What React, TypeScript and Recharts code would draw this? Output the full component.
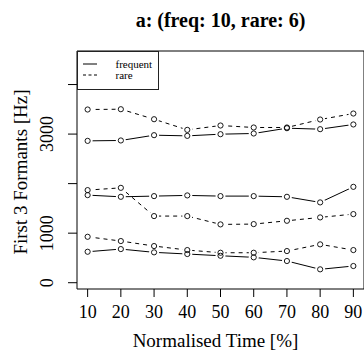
import React from 'react';
import { LineChart, Line, XAxis, YAxis, Legend, Label, ReferenceLine } from 'recharts';

const times = [10, 20, 30, 40, 50, 60, 70, 80, 90];
const freqF1 = [625, 679, 613, 579, 544, 512, 438, 270, 337];
const freqF2 = [1768, 1734, 1748, 1762, 1748, 1748, 1734, 1621, 1935];
const freqF3 = [2863, 2871, 2978, 2964, 2998, 3012, 3119, 3099, 3194];
const rareF1 = [927, 841, 740, 659, 605, 605, 639, 774, 659];
const rareF2 = [1869, 1915, 1345, 1345, 1177, 1183, 1250, 1318, 1385];
const rareF3 = [3496, 3502, 3300, 3085, 3173, 3133, 3133, 3294, 3415];

const xTicks = [10, 20, 30, 40, 50, 60, 70, 80, 90];
const yTicks = [0, 1000, 2000, 3000, 4000];
const yLabelled = [0, 1000, 3000];
const xDomain = [6.8, 93.2];
const yDomain = [-127, 4677];

const title = 'a: (freq: 10, rare: 6)';
const xTitle = 'Normalised Time [%]';
const yTitle = 'First 3 Formants [Hz]';
const legendNames = ['frequent', 'rare'];

const data = times.map((t, i) => ({
  t,
  fF1: freqF1[i],
  fF2: freqF2[i],
  fF3: freqF3[i],
  rF1: rareF1[i],
  rF2: rareF2[i],
  rF3: rareF3[i],
}));

const series = [
  { key: 'fF1', dash: undefined as string | undefined },
  { key: 'fF2', dash: undefined as string | undefined },
  { key: 'fF3', dash: undefined as string | undefined },
  { key: 'rF1', dash: '4 4' },
  { key: 'rF2', dash: '4 4' },
  { key: 'rF3', dash: '4 4' },
];

const FONT = '"Liberation Serif", "Times New Roman", Times, serif';

const Halo = (p: any) => <circle key={p.key ?? `${p.cx}-${p.cy}`} cx={p.cx} cy={p.cy} r={5} fill="#fff" stroke="none" />;
const Ring = (p: any) => (
  <circle key={p.key ?? `${p.cx}-${p.cy}`} cx={p.cx} cy={p.cy} r={2.6} fill="none" stroke="#000" strokeWidth={0.9} />
);

const XTick = (p: any) => (
  <text x={p.x} y={p.y + 13} textAnchor="middle" dominantBaseline="central" fontFamily={FONT} fontSize={18} fill="#000">
    {p.payload.value}
  </text>
);

const YTick = (p: any) => {
  const v = p.payload.value;
  if (!yLabelled.includes(v)) return <g />;
  const x = p.x - 19;
  return (
    <text x={x} y={p.y} transform={`rotate(-90, ${x}, ${p.y})`} textAnchor="middle" dominantBaseline="central" fontFamily={FONT} fontSize={18} fill="#000">
      {v}
    </text>
  );
};

const LegendBox = () => (
  <svg width={82} height={39} style={{ display: 'block' }}>
    <rect x={0.5} y={0.5} width={81} height={38} fill="#fff" stroke="#222" strokeWidth={1} />
    <line x1={6} x2={20} y1={13} y2={13} stroke="#000" strokeWidth={1} />
    <line x1={6} x2={20} y1={24} y2={24} stroke="#000" strokeWidth={1} strokeDasharray="3 2.5" />
    <text x={38.5} y={13} dominantBaseline="central" fontFamily={FONT} fontSize={11} fill="#000">{legendNames[0]}</text>
    <text x={38.5} y={24} dominantBaseline="central" fontFamily={FONT} fontSize={11} fill="#000">{legendNames[1]}</text>
  </svg>
);

export default function App() {
  return (
    <div style={{ position: 'absolute', left: 0, top: 0, width: 364, height: 354, background: '#fff' }}>
      <div
        style={{
          position: 'absolute',
          left: 77,
          top: 8,
          width: 287,
          textAlign: 'center',
          fontFamily: FONT,
          fontWeight: 'bold',
          fontSize: 20,
          lineHeight: '24px',
          color: '#000',
          whiteSpace: 'nowrap',
        }}
      >
        {title}
      </div>
      <LineChart width={364} height={354} data={data} margin={{ top: 51, right: 0, left: 0, bottom: 0 }}>
        <XAxis
          dataKey="t"
          type="number"
          domain={xDomain}
          ticks={xTicks}
          height={65}
          tickSize={8}
          tick={<XTick />}
          axisLine={{ stroke: '#000', strokeWidth: 1 }}
          tickLine={{ stroke: '#000', strokeWidth: 1 }}
          allowDataOverflow
        >
          <Label
            content={(lp: any) => {
              const vb = lp.viewBox;
              return (
                <text x={vb.x + vb.width / 2 - 5} y={340} textAnchor="middle" dominantBaseline="central" fontFamily={FONT} fontSize={19} fill="#000">
                  {xTitle}
                </text>
              );
            }}
          />
        </XAxis>
        <YAxis
          type="number"
          domain={yDomain}
          ticks={yTicks}
          width={77}
          tickSize={9}
          tick={<YTick />}
          axisLine={{ stroke: '#000', strokeWidth: 1 }}
          tickLine={{ stroke: '#000', strokeWidth: 1 }}
          allowDataOverflow
        >
          <Label
            content={(lp: any) => {
              const vb = lp.viewBox;
              const cy = vb.y + vb.height / 2 + 2;
              return (
                <text x={20} y={cy} transform={`rotate(-90, 20, ${cy})`} textAnchor="middle" dominantBaseline="central" fontFamily={FONT} fontSize={19} fill="#000">
                  {yTitle}
                </text>
              );
            }}
          />
        </YAxis>
        <ReferenceLine y={yDomain[1]} stroke="#000" strokeWidth={1} ifOverflow="extendDomain" />
        <ReferenceLine x={xDomain[1]} stroke="#000" strokeWidth={1} ifOverflow="extendDomain" />
        {series.map((s) => (
          <Line
            key={`l-${s.key}`}
            dataKey={s.key}
            type="linear"
            stroke="#000"
            strokeWidth={1}
            strokeDasharray={s.dash}
            dot={false}
            activeDot={false}
            legendType="none"
            isAnimationActive={false}
          />
        ))}
        {series.map((s) => (
          <Line
            key={`h-${s.key}`}
            dataKey={s.key}
            type="linear"
            stroke="none"
            dot={<Halo />}
            activeDot={false}
            legendType="none"
            isAnimationActive={false}
          />
        ))}
        {series.map((s) => (
          <Line
            key={`r-${s.key}`}
            dataKey={s.key}
            type="linear"
            stroke="none"
            dot={<Ring />}
            activeDot={false}
            legendType="none"
            isAnimationActive={false}
          />
        ))}
        <Legend
          layout="horizontal"
          align="center"
          verticalAlign="middle"
          content={() => <LegendBox />}
          wrapperStyle={{ position: 'absolute', left: 77, top: 51, width: 82, height: 39 }}
        />
      </LineChart>
    </div>
  );
}
